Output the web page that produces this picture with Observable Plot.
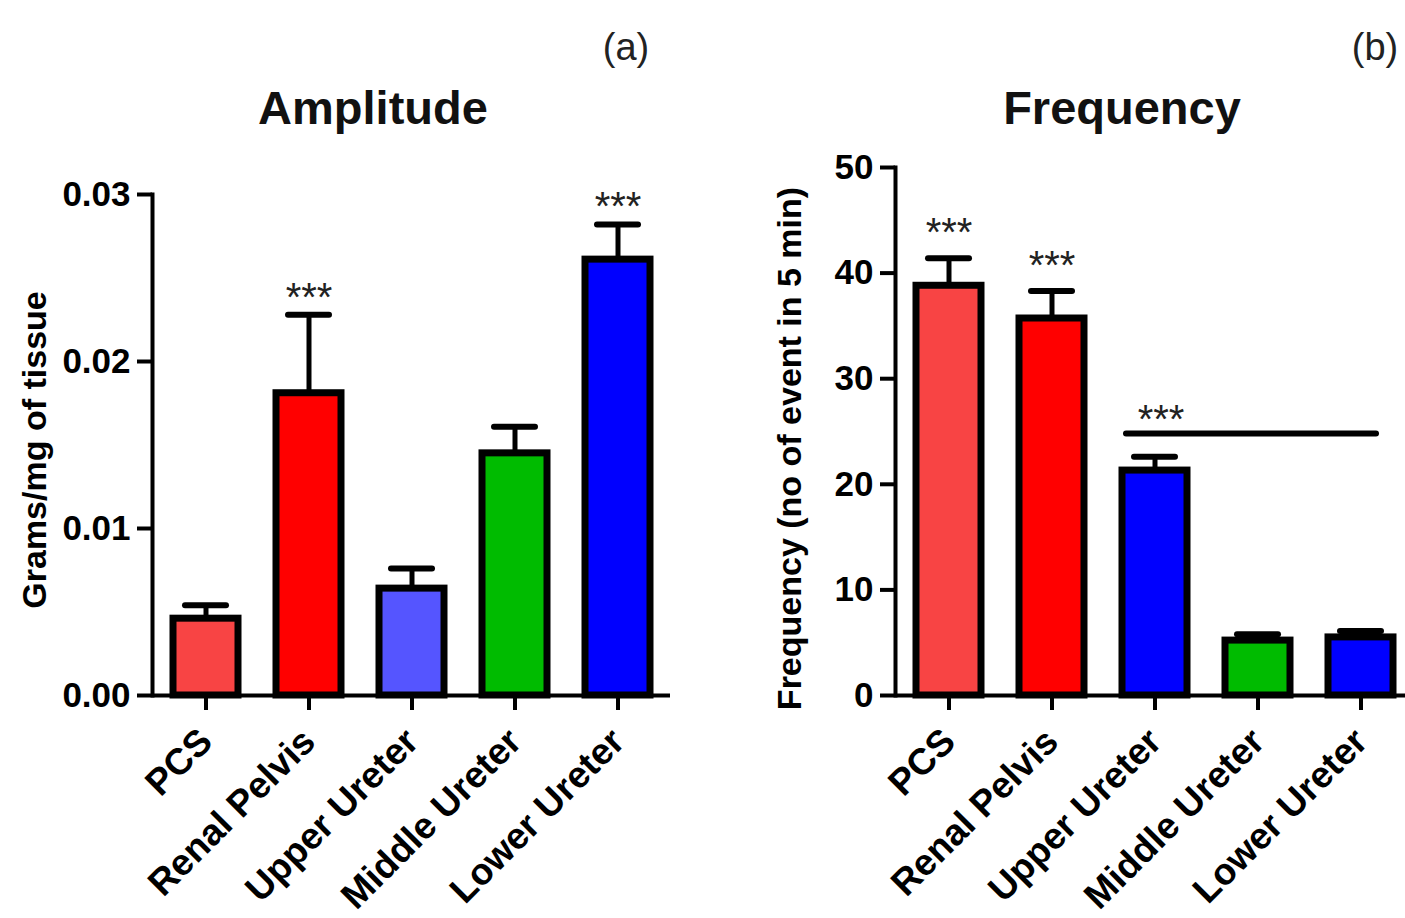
<!DOCTYPE html>
<html>
<head>
<meta charset="utf-8">
<script src="https://cdn.jsdelivr.net/npm/d3@7"></script>
<script src="https://cdn.jsdelivr.net/npm/@observablehq/plot@0.6"></script>
<style>
  html, body { margin: 0; padding: 0; background: #fff; }
  #wrap { position: relative; width: 1405px; height: 918px; overflow: hidden; font-family: "Liberation Sans", Arial, sans-serif; }
  .chart { position: absolute; top: 0; }
  .chart svg { max-width: none !important; }
  .title { position: absolute; font-weight: bold; font-size: 47px; color: #111; transform: translateX(-50%); white-space: nowrap; line-height: 1; }
  .tag { position: absolute; font-size: 38px; color: #222; transform: translateX(-50%); line-height: 1; }
</style>
</head>
<body>
<div id="wrap">
  <div class="tag" style="left:626px; top:28px;">(a)</div>
  <div class="tag" style="left:1375px; top:28px;">(b)</div>
  <div class="title" style="left:373px; top:84px;">Amplitude</div>
  <div class="title" style="left:1122px; top:84px;">Frequency</div>
  <div id="a" class="chart" style="left:0px; width:700px;"></div>
  <div id="b" class="chart" style="left:700px; width:714px;"></div>
</div>
<script>
const categories = ["PCS", "Renal Pelvis", "Upper Ureter", "Middle Ureter", "Lower Ureter"];

const ampMean = [0.0046, 0.0181, 0.0064, 0.0145, 0.0261];
const ampSem  = [0.0008, 0.0047, 0.0012, 0.0016, 0.0021];
const ampColors = ["#f84444", "#ff0000", "#5555ff", "#00bb00", "#0000ff"];
const ampStars = ["", "***", "", "", "***"];
const ampTicks = [0, 0.01, 0.02, 0.03];

const freqMean = [38.8, 35.7, 21.3, 5.2, 5.5];
const freqSem  = [2.6, 2.6, 1.3, 0.6, 0.6];
const freqColors = ["#f84444", "#ff0000", "#0000ff", "#00bb00", "#0000ff"];
const freqStars = ["***", "***", "", "", ""];
const freqTicks = [0, 10, 20, 30, 40, 50];
const freqBracket = [{from: "Upper Ureter", to: "Lower Ureter", y: 24.8, stars: "***"}];

const FONT = "'Liberation Sans', Arial, sans-serif";

function rows(mean, sem, colors, stars) {
  return categories.map((c, i) => ({cat: c, mean: mean[i], top: mean[i] + sem[i], color: colors[i], stars: stars[i]}));
}

function panel({data, yDomain, ticks, tickFormat, ylabel, labelX, marginLeft, marginRight, marginTop, width, starDy, labelDy, extra}) {
  return Plot.plot({
    width, height: 918,
    marginLeft, marginRight, marginTop, marginBottom: 223,
    style: {fontFamily: FONT, color: "#000", background: "transparent", overflow: "visible", maxWidth: "none"},
    x: {domain: categories, paddingInner: 0.37, paddingOuter: 0.19, label: null},
    y: {domain: yDomain, label: null},
    color: {type: "identity"},
    marks: [
      Plot.ruleX(data, {x: "cat", y1: "mean", y2: "top", stroke: "#000", strokeWidth: 5}),
      Plot.tickY(data, {x: "cat", y: "top", stroke: "#000", strokeWidth: 6, insetLeft: 12, insetRight: 12, strokeLinecap: "round"}),
      Plot.barY(data, {x: "cat", y: "mean", fill: "color", stroke: "#000", strokeWidth: 7}),
      Plot.text(data, {x: "cat", y: "top", text: "stars", fontSize: 40, fill: "#222", dy: starDy, lineAnchor: "middle"}),
      ...(extra || []),
      Plot.ruleY([0], {stroke: "#000", strokeWidth: 4}),
      Plot.frame({anchor: "left", stroke: "#000", strokeWidth: 4}),
      Plot.axisY({ticks, tickFormat, tickSize: 15, tickPadding: 7, fontSize: 35, fontWeight: "bold", strokeWidth: 4, label: null}),
      Plot.axisX({tickSize: 15, tickPadding: 25, tickRotate: -45, fontSize: 37, fontWeight: "bold", strokeWidth: 4, label: null}),
      Plot.text([ylabel], {text: d => d, frameAnchor: "left", textAnchor: "middle", rotate: -90, fontSize: 34, fontWeight: "bold", dx: -(marginLeft - labelX), dy: labelDy})
    ]
  });
}

document.getElementById("a").appendChild(panel({
  data: rows(ampMean, ampSem, ampColors, ampStars),
  yDomain: [0, 0.03], ticks: ampTicks, tickFormat: d3.format(".2f"),
  ylabel: "Grams/mg of tissue", labelX: 35,
  marginLeft: 152, marginRight: 30, marginTop: 194, width: 700,
  starDy: -17, labelDy: 5
}));

document.getElementById("b").appendChild(panel({
  data: rows(freqMean, freqSem, freqColors, freqStars),
  yDomain: [0, 50], ticks: freqTicks, tickFormat: d3.format("d"),
  ylabel: "Frequency (no of event in 5 min)", labelX: 90,
  marginLeft: 195, marginRight: 0, marginTop: 167, width: 714,
  starDy: -25, labelDy: 17,
  extra: [
    Plot.ruleY(freqBracket, {x1: "from", x2: "to", y: "y", stroke: "#000", strokeWidth: 6, insetLeft: 4, insetRight: 17, strokeLinecap: "round"}),
    Plot.text(freqBracket, {x: "from", y: "y", text: "stars", fontSize: 40, fill: "#222", dx: 6, dy: -13, lineAnchor: "middle"})
  ]
}));
</script>
</body>
</html>
